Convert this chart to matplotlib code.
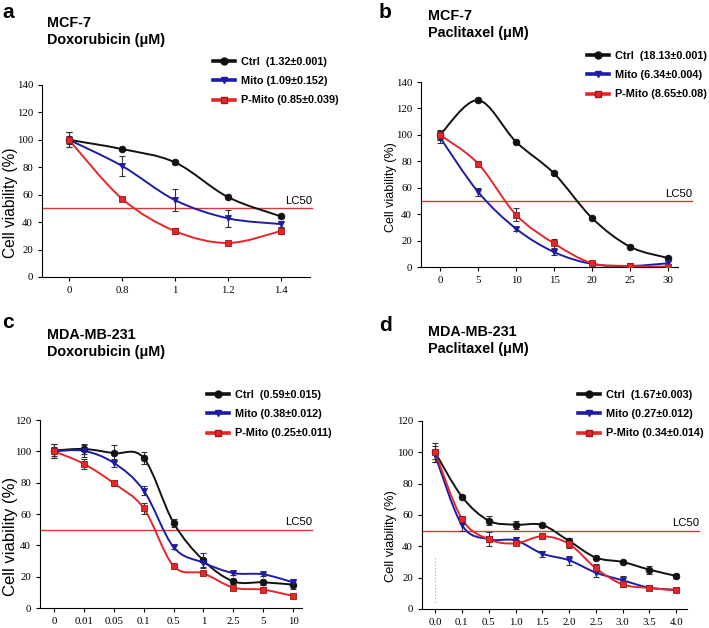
import numpy as np
import matplotlib.pyplot as plt
from matplotlib.path import Path
from matplotlib.patches import PathPatch
from matplotlib.lines import Line2D

plt.rcParams['font.family'] = ['Liberation Sans', 'DejaVu Sans']

W, H = 709, 628

# panel a : MCF-7, doxorubicin
a_doses = ['0', '0.8', '1', '1.2', '1.4']
a_ctrl = [100, 93.3, 83.6, 58.3, 44.2]
a_ctrl_err = [5.5, 1, 1, 1, 1]
a_mito = [100, 81, 56.1, 42.8, 38.6]
a_mito_err = [3, 7, 8, 6, 2]
a_pmito = [100, 57.1, 33.5, 24.8, 33.5]
a_pmito_err = [5.5, 1, 2.5, 1, 2.5]
a_labels = ['Ctrl  (1.32±0.001)', 'Mito (1.09±0.152)', 'P-Mito (0.85±0.039)']

# panel b : MCF-7, paclitaxel
b_doses = ['0', '5', '10', '15', '20', '25', '30']
b_ctrl = [100, 126.2, 94.7, 70.8, 37, 15.3, 6.8]
b_ctrl_err = [4, 1, 1, 1, 1, 1, 1]
b_mito = [98, 56.9, 29, 11.3, 2.3, 0.8, 2.8]
b_mito_err = [4, 3, 1.5, 2.5, 1, 0.5, 1.5]
b_pmito = [100, 78.3, 39.5, 17.9, 2.8, 0.8, 0.3]
b_pmito_err = [3, 2, 5, 3.5, 1, 0.5, 1]
b_labels = ['Ctrl  (18.13±0.001)', 'Mito (6.34±0.004)', 'P-Mito (8.65±0.08)']

# panel c : MDA-MB-231, doxorubicin
c_doses = ['0', '0.01', '0.05', '0.1', '0.5', '1', '2.5', '5', '10']
c_ctrl = [100.5, 101.5, 98.8, 95.8, 54.4, 30.4, 17, 16.4, 14.9]
c_ctrl_err = [4.5, 3, 5, 4, 2.5, 5, 1.5, 1.5, 2.5]
c_mito = [100, 100.3, 92.6, 75, 38.9, 28.9, 22.3, 21.5, 16.4]
c_mito_err = [3, 4, 2.5, 3, 1.5, 3, 1, 1, 2]
c_pmito = [100, 92, 79.6, 63.7, 26.8, 22.1, 13, 11.7, 7.7]
c_pmito_err = [4.5, 3, 1.5, 3.5, 1, 1, 1, 1.5, 1]
c_labels = ['Ctrl  (0.59±0.015)', 'Mito (0.38±0.012)', 'P-Mito (0.25±0.011)']

# panel d : MDA-MB-231, paclitaxel
d_doses = ['0.0', '0.1', '0.5', '1.0', '1.5', '2.0', '2.5', '3.0', '3.5', '4.0']
d_ctrl = [100, 71.7, 56.4, 53.8, 53.6, 43.4, 32.8, 30, 25.1, 21.1]
d_ctrl_err = [6, 1, 3, 2.5, 1, 2, 1, 1.5, 2.5, 1]
d_mito = [98, 53.6, 44.5, 43.8, 35.3, 31.1, 23.2, 18.3, 13.6, 12.3]
d_mito_err = [4, 4, 2, 2, 2, 3, 3, 2.5, 1.5, 1]
d_pmito = [100, 57.5, 44.5, 41.9, 46.4, 41.5, 26, 15.7, 13.4, 11.9]
d_pmito_err = [4, 2, 4.5, 1, 2, 2.5, 2.5, 1.5, 1, 1]
d_labels = ['Ctrl  (1.67±0.003)', 'Mito (0.27±0.012)', 'P-Mito (0.34±0.014)']

BLACK = '#111111'
BLUE = '#1c1ca8'
RED = '#e5262b'
styles = [
    dict(color=BLACK, marker='o', mfc=BLACK, mec=BLACK),
    dict(color=BLUE, marker='v', mfc=BLUE, mec=BLUE),
    dict(color=RED, marker='s', mfc=RED, mec='#a01818'),
]


def smooth_path(x, y):
    # catmull-rom curve through the points, drawn as cubic beziers
    p = np.column_stack([x, y]).astype(float)
    ext = np.vstack([p[0], p, p[-1]])
    verts = [p[0]]
    codes = [Path.MOVETO]
    for i in range(len(p) - 1):
        p0, p1, p2, p3 = ext[i], ext[i + 1], ext[i + 2], ext[i + 3]
        verts += [p1 + (p2 - p0) / 6, p2 - (p3 - p1) / 6, p2]
        codes += [Path.CURVE4] * 3
    return Path(verts, codes)


def panel(box, xlim, letter, letter_xy, title, title_xy, doses, series, errs, labels,
          ymax, leg_xy, lc50_end, ylab, dotted=False):
    l, t, r, b = box
    ax = fig.add_axes([l / W, 1 - b / H, (r - l) / W, (b - t) / H])
    x = np.arange(len(doses))
    for ys, es, st in zip(series, errs, styles):
        ax.add_patch(PathPatch(smooth_path(x, ys), fill=False, ec=st['color'], lw=1.4, zorder=2))
        ax.errorbar(x, ys, yerr=es, fmt='none', ecolor='#333333', elinewidth=0.8,
                    capsize=2.5, capthick=0.8, zorder=3)
        ax.plot(x, ys, ls='none', marker=st['marker'], ms=4.8, mfc=st['mfc'],
                mec=st['mec'], mew=0.6, zorder=4)
    span = r - l
    ax.axhline(50, 0, (lc50_end - l) / span, color='#d83a3a', lw=1.0, clip_on=False, zorder=1)
    ax.text((lc50_end - l) / span, 51.5, 'LC50', transform=ax.get_yaxis_transform(),
            ha='right', va='bottom', fontsize=8.2)
    if dotted:
        ax.plot([0, 0], [4.5, 34], ls=(0, (1, 2)), color='#aaaaaa', lw=0.8)
    ax.set_xlim(*xlim)
    ax.set_xticks(x)
    ax.set_xticklabels(doses, family='Liberation Serif', fontsize=7.8)
    ticks = list(range(0, ymax + 1, 20))
    ax.set_yticks(ticks)
    ax.set_yticklabels([str(v) for v in ticks], family='Liberation Serif', fontsize=7.8)
    ax.set_ylim(0, ymax)
    ax.spines['top'].set_visible(False)
    ax.spines['right'].set_visible(False)
    ax.tick_params(length=3, width=0.8, pad=3.5)
    fig.text(ylab[0] / W, 1 - ylab[1] / H, 'Cell viability (%)', fontsize=ylab[2],
             rotation=90, ha='right', va='center')
    handles = [Line2D([], [], color=st['color'], lw=2.6, marker=st['marker'], ms=5,
                      mfc=st['mfc'], mec=st['mec']) for st in styles]
    ax.legend(handles, labels, loc='upper left', bbox_to_anchor=(leg_xy[0] / W, 1 - leg_xy[1] / H),
              bbox_transform=fig.transFigure, frameon=False, borderpad=0, borderaxespad=0,
              handlelength=2.0, handletextpad=0.55, labelspacing=0.85,
              prop=dict(weight='bold', size=7.8))
    fig.text(letter_xy[0] / W, 1 - letter_xy[1] / H, letter, fontsize=15, weight='bold',
             ha='left', va='center')
    fig.text(title_xy[0] / W, 1 - title_xy[1] / H, title, fontsize=10.4, weight='bold',
             ha='left', va='top', linespacing=1.3)
    return ax


fig = plt.figure(figsize=(W / 100, H / 100), dpi=100)

panel((42, 85, 310, 277), (-0.51, 4.55), 'a', (2, 12), 'MCF-7\nDoxorubicin (μM)', (47, 16),
      a_doses, [a_ctrl, a_mito, a_pmito], [a_ctrl_err, a_mito_err, a_pmito_err],
      a_labels, 140, (213, 57), 312, (18, 203, 11.2))

panel((421, 82, 678, 267), (-0.5, 6.26), 'b', (379, 12), 'MCF-7\nPaclitaxel (μM)', (428, 9),
      b_doses, [b_ctrl, b_mito, b_pmito], [b_ctrl_err, b_mito_err, b_pmito_err],
      b_labels, 140, (587, 51), 692, (397, 187, 9.0))

panel((40, 420, 302, 608), (-0.47, 8.3), 'c', (2, 322), 'MDA-MB-231\nDoxorubicin (μM)', (47, 328),
      c_doses, [c_ctrl, c_mito, c_pmito], [c_ctrl_err, c_mito_err, c_pmito_err],
      c_labels, 120, (207, 390), 312, (18, 536, 12.0))

panel((422, 421, 687, 609), (-0.49, 9.4), 'd', (379, 325), 'MDA-MB-231\nPaclitaxel (μM)', (428, 325),
      d_doses, [d_ctrl, d_mito, d_pmito], [d_ctrl_err, d_mito_err, d_pmito_err],
      d_labels, 120, (578, 390), 699, (397, 536, 9.3), dotted=True)

fig.savefig('out.png', dpi=100)
